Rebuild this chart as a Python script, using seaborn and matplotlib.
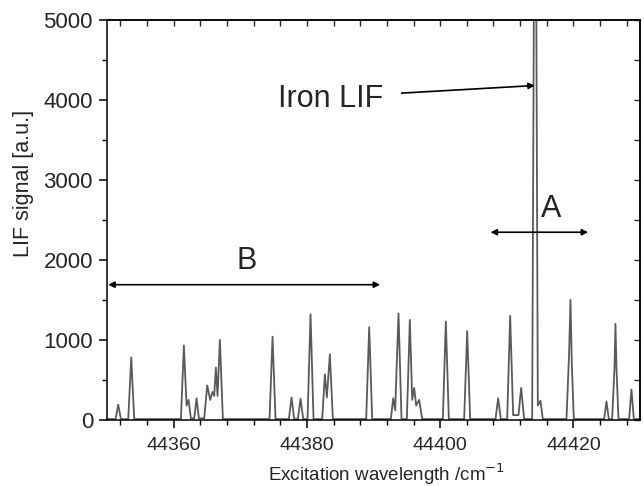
import matplotlib
matplotlib.use("Agg")
import matplotlib.pyplot as plt
import seaborn as sns
from matplotlib.ticker import MultipleLocator

sns.set_theme(style="ticks")
plt.rcParams['font.family'] = ['Liberation Sans', 'DejaVu Sans']

# LIF trace vertices (wavenumber in cm^-1, signal in a.u.)
wavenumber = [
    44350.0, 44351.3, 44351.7, 44352.1, 44353.2, 44353.65, 44354.1,
    44361.1, 44361.55, 44361.95, 44362.25, 44362.6, 44363.1, 44363.45, 44363.8,
    44364.6, 44365.05, 44365.5, 44365.85, 44366.1, 44366.35, 44366.6, 44366.95, 44367.4,
    44374.4, 44374.85, 44375.3, 44377.3, 44377.7, 44378.1, 44378.65, 44379.05, 44379.45,
    44380.1, 44380.55, 44381.0, 44382.3, 44382.7, 44383.0, 44383.45, 44383.9,
    44388.9, 44389.35, 44389.8, 44392.6, 44392.95, 44393.25, 44393.75, 44394.2,
    44395.0, 44395.45, 44395.8, 44396.1, 44396.4, 44396.85, 44397.3,
    44400.4, 44400.85, 44401.3, 44403.6, 44404.05, 44404.5,
    44408.3, 44408.7, 44409.1, 44410.05, 44410.5, 44410.95, 44411.75, 44412.15, 44412.6,
    44413.8, 44414.25, 44414.65, 44415.05, 44415.4,
    44418.95, 44419.35, 44419.55, 44419.75, 44420.05,
    44424.6, 44424.95, 44425.3, 44425.8, 44426.15, 44426.3, 44426.45, 44426.75,
    44428.35, 44428.7, 44429.05, 44430.0,
]
signal = [
    10, 10, 190, 10, 10, 780, 10,
    10, 930, 180, 250, 20, 20, 270, 20,
    20, 430, 250, 350, 300, 655, 300, 1000, 10,
    10, 1040, 10, 10, 280, 10, 10, 265, 10,
    10, 1320, 10, 10, 570, 280, 820, 10,
    10, 1160, 10, 10, 270, 120, 1330, 10,
    10, 1250, 250, 400, 180, 250, 10,
    10, 1230, 10, 10, 1110, 10,
    10, 270, 10, 10, 1300, 60, 60, 400, 10,
    10, 9000, 180, 240, 10,
    10, 850, 1500, 700, 10,
    10, 230, 10, 10, 650, 1200, 650, 10,
    10, 380, 10, 10,
]

x_limits = (44350, 44430)
y_limits = (0, 5000)

fig, ax = plt.subplots(figsize=(6.44, 4.86), dpi=100)
fig.subplots_adjust(left=0.166, right=0.994, bottom=0.136, top=0.959)

sns.lineplot(x=wavenumber, y=signal, ax=ax, color="#5a5a5a", lw=1.3,
             estimator=None, sort=False)

ax.set_xlim(*x_limits)
ax.set_ylim(*y_limits)

ax.xaxis.set_major_locator(MultipleLocator(20))
ax.xaxis.set_minor_locator(MultipleLocator(4))
ax.yaxis.set_major_locator(MultipleLocator(1000))
ax.yaxis.set_minor_locator(MultipleLocator(500))
ax.tick_params(which="major", direction="out", length=6, width=1.1, color="black")
ax.tick_params(which="minor", direction="out", length=3.5, width=1.0, color="black")
ax.tick_params(axis="x", which="major", labelsize=14, pad=6)
ax.tick_params(axis="y", which="major", labelsize=16, pad=4)

for s in ax.spines.values():
    s.set_color("black")
    s.set_linewidth(1.1)

# inward ticks on top and right
top = ax.secondary_xaxis("top")
top.xaxis.set_major_locator(MultipleLocator(4))
top.tick_params(direction="in", length=4, width=1.0, labeltop=False)
right = ax.secondary_yaxis("right")
right.yaxis.set_major_locator(MultipleLocator(500))
right.tick_params(direction="in", length=4, width=1.0, labelright=False)

ax.set_xlabel("Excitation wavelength /cm$^{-1}$", fontsize=13.5)
ax.set_ylabel("LIF signal [a.u.]", fontsize=15.5)
ax.xaxis.set_label_coords(0.525, -0.105)
ax.yaxis.set_label_coords(-0.137, 0.59)

# annotations
ax.annotate("", xy=(44414.2, 4180), xytext=(44394.2, 4085),
            arrowprops=dict(arrowstyle="-|>", color="black", lw=1.2,
                            mutation_scale=9, shrinkA=0, shrinkB=0))
ax.text(44375.65, 3912, "Iron LIF", fontsize=22, ha="left", va="baseline")

ax.annotate("", xy=(44407.55, 2346), xytext=(44422.2, 2346),
            arrowprops=dict(arrowstyle="<|-|>", color="black", lw=1.2,
                            mutation_scale=9, shrinkA=0, shrinkB=0))
ax.text(44416.7, 2541, "A", fontsize=22, ha="center", va="baseline")

ax.annotate("", xy=(44350.2, 1690), xytext=(44391.0, 1690),
            arrowprops=dict(arrowstyle="<|-|>", color="black", lw=1.2,
                            mutation_scale=9, shrinkA=0, shrinkB=0))
ax.text(44371.0, 1890, "B", fontsize=22, ha="center", va="baseline")

fig.savefig("out.png", dpi=100)
